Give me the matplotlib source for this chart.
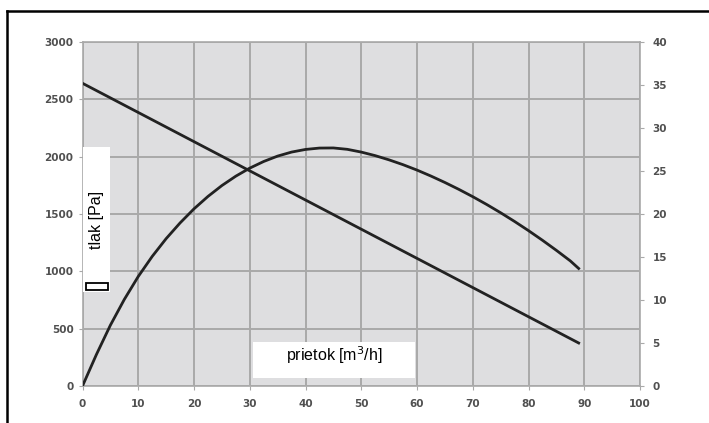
import matplotlib.pyplot as plt
from matplotlib.lines import Line2D
from matplotlib.patches import Rectangle

# flow [m3/h] and pressure [Pa] (left axis)
flow = [0, 2.5, 5, 7.5, 10, 12.5, 15, 17.5, 20, 22.5, 25, 27.5, 30, 32.5, 35, 37.5,
        40, 42.5, 45, 47.5, 50, 52.5, 55, 57.5, 60, 62.5, 65, 67.5, 70, 72.5, 75,
        77.5, 80, 82.5, 85, 87.5, 89]
pressure = [0, 275, 530, 755, 955, 1130, 1285, 1422, 1545, 1653, 1748, 1830, 1900,
            1958, 2005, 2040, 2063, 2075, 2076, 2064, 2040, 2009, 1972, 1930, 1883,
            1831, 1775, 1715, 1651, 1583, 1511, 1435, 1355, 1271, 1183, 1091, 1025]

# straight line read on the right axis
flow2 = [0, 89]
right_vals = [35.2, 5.0]

xticks = list(range(0, 101, 10))
yticks_left = list(range(0, 3001, 500))
yticks_right = list(range(0, 41, 5))

plt.rcParams['font.family'] = ['Liberation Sans', 'DejaVu Sans']

fig = plt.figure(figsize=(7.09, 4.23), dpi=100)
W, H = 709, 423
ax = fig.add_axes([82.5 / W, 1 - 386 / H, (640 - 82.5) / W, (386 - 42) / H])
ax.set_facecolor('#dedee0')

ax.plot(flow, pressure, color='#222222', lw=2.0, zorder=3)
ax.set_xlim(0, 100)
ax.set_ylim(0, 3000)
ax.set_xticks(xticks)
ax.set_yticks(yticks_left)
ax.grid(True, color='#a9a9a9', lw=1.4)
ax.set_axisbelow(True)
for s in ax.spines.values():
    s.set_color('#a9a9a9')
    s.set_linewidth(1.2)
ax.tick_params(colors='#a9a9a9', labelcolor='#505050', labelsize=7.5, length=3, width=0.8)
ax.tick_params(axis='x', pad=6)
for lab in ax.get_xticklabels() + ax.get_yticklabels():
    lab.set_fontweight('bold')
    lab.set_family('DejaVu Sans')

ax2 = ax.twinx()
ax2.plot(flow2, right_vals, color='#222222', lw=2.0, zorder=3)
ax2.set_ylim(0, 40)
ax2.set_yticks(yticks_right)
for s in ax2.spines.values():
    s.set_visible(False)
ax2.tick_params(colors='#a9a9a9', labelcolor='#505050', labelsize=7.5, length=3, width=0.8, pad=6)
for lab in ax2.get_yticklabels():
    lab.set_fontweight('bold')
    lab.set_family('DejaVu Sans')

# white label boxes
fig.add_artist(Rectangle((83 / W, 1 - 292 / H), 27 / W, 145 / H, transform=fig.transFigure,
                         facecolor='white', edgecolor='none', zorder=5))
fig.add_artist(Rectangle((86 / W, 1 - 290 / H), 22 / W, 7 / H, transform=fig.transFigure,
                         facecolor='white', edgecolor='black', lw=1.3, zorder=6))
fig.text(97 / W, 1 - 220 / H, 'tlak [Pa]', rotation=90, ha='center', va='center',
         fontsize=11.5, zorder=7)

fig.add_artist(Rectangle((253 / W, 1 - 378 / H), 162 / W, 36 / H, transform=fig.transFigure,
                         facecolor='white', edgecolor='none', zorder=5))
fig.text(334 / W, 1 - 355 / H, 'prietok [m$^3$/h]', ha='center', va='center',
         fontsize=11.5, zorder=7)

# page border
fig.add_artist(Line2D([7 / W, 7 / W], [0, 1 - 11 / H], color='black', lw=1.8,
                      transform=fig.transFigure))
fig.add_artist(Line2D([7 / W, 1], [1 - 11 / H, 1 - 11 / H], color='black', lw=1.8,
                      transform=fig.transFigure))

fig.savefig('out.png', dpi=100)
